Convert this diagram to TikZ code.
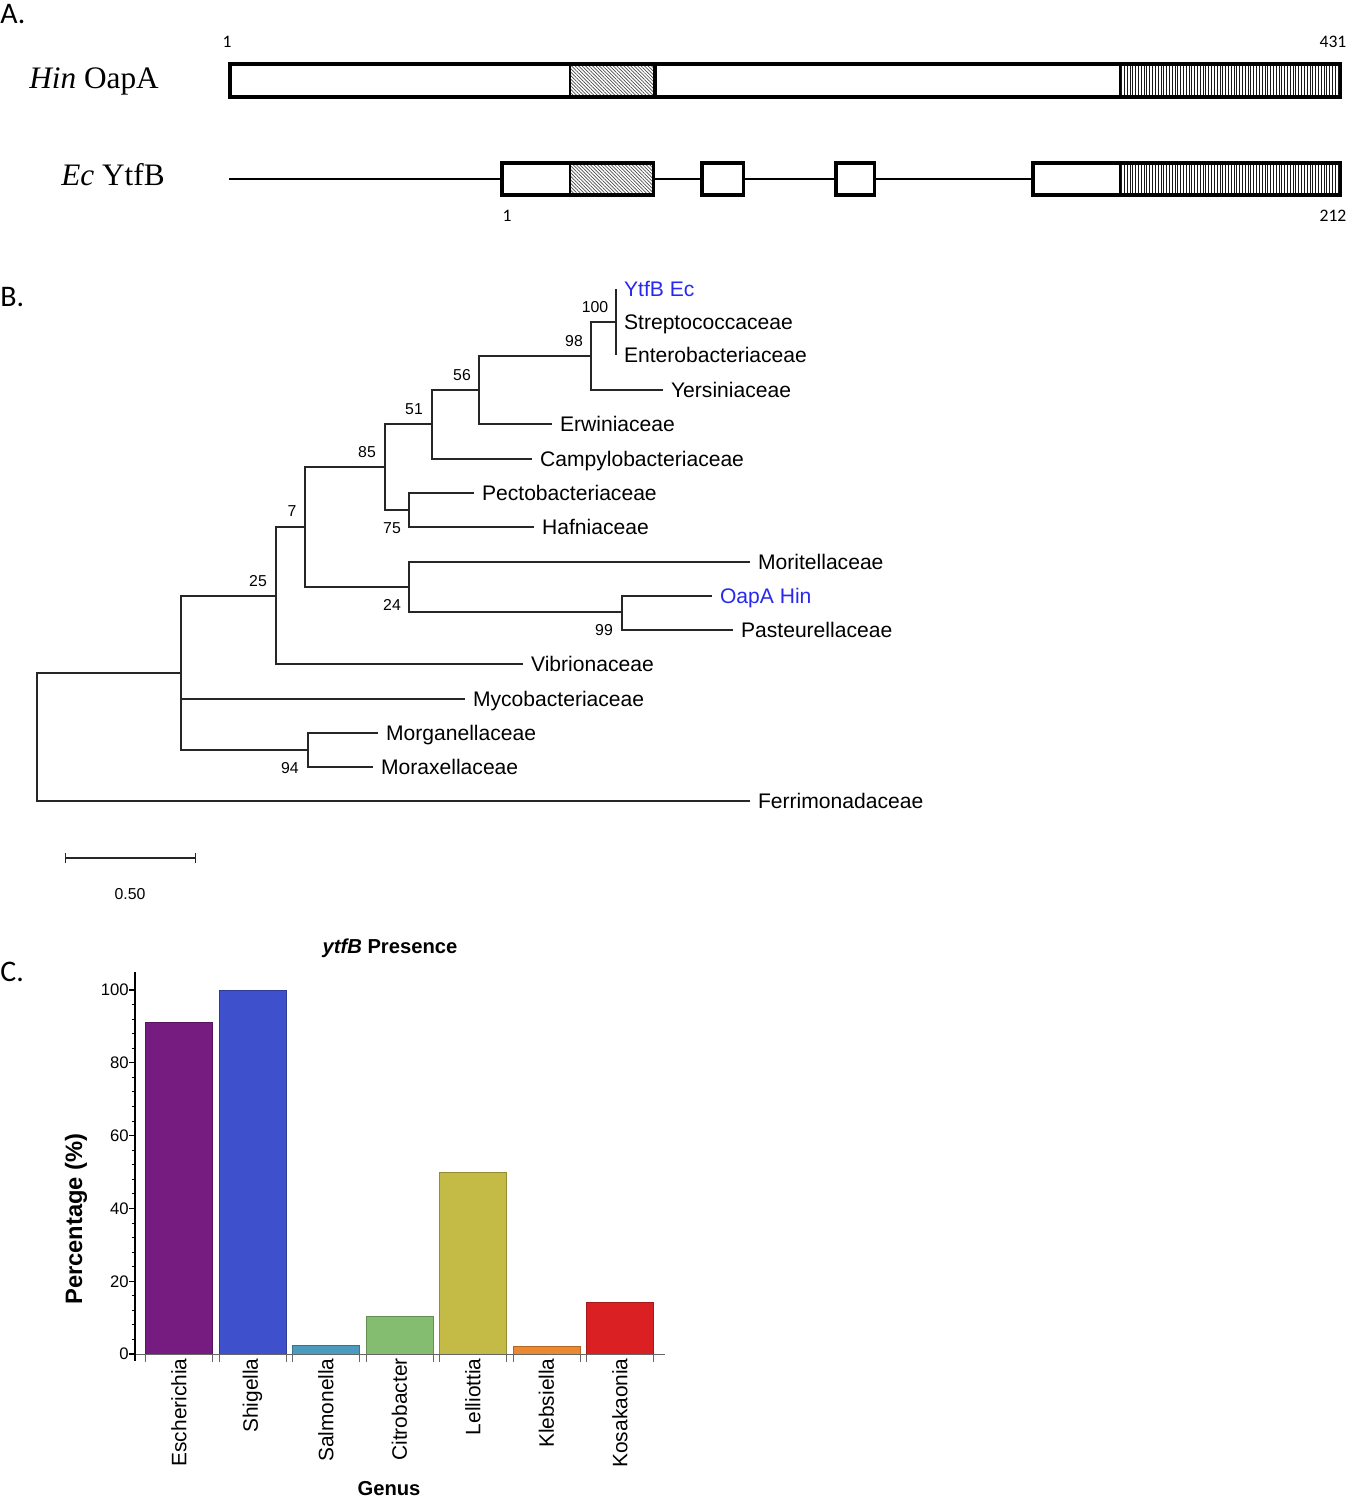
\documentclass[tikz,border=0pt]{standalone}
\usepackage{fontspec}
\setmainfont{Liberation Sans}
\newfontfamily\timesfont{Liberation Serif}
\newfontfamily\calfont{Carlito}
\usetikzlibrary{arrows.meta,fit,patterns.meta}

\definecolor{seqblue}{RGB}{40,40,240}
\definecolor{escol}{RGB}{118,27,128}
\definecolor{shcol}{RGB}{62,80,203}
\definecolor{sacol}{RGB}{74,155,190}
\definecolor{cicol}{RGB}{133,189,112}
\definecolor{lecol}{RGB}{196,187,70}
\definecolor{klcol}{RGB}{235,137,50}
\definecolor{kocol}{RGB}{219,32,36}

\begin{document}
\begin{tikzpicture}[
  x=0.02cm, y=-0.02cm,
  panellab/.style={anchor=west,inner sep=0pt,font=\calfont\fontsize{17}{20}\selectfont},
  resnum/.style={inner sep=0pt,font=\calfont\fontsize{10}{12}\selectfont},
  protname/.style={anchor=base west,inner sep=0pt,font=\timesfont\fontsize{17.8}{20}\selectfont},
  protbox/.style={draw,line width=2pt,inner sep=0pt,outer sep=0pt},
  backbone/.style={line width=1.4pt},
  divider/.style={line width=1pt},
  hatchA/.style={pattern={Lines[angle=-45,distance=1.4pt,line width=0.4pt]},pattern color=black!70},
  hatchB/.style={pattern={Lines[angle=90,distance=1.6pt,line width=0.55pt]},pattern color=black!90},
  branch/.style={line width=0.85pt,black!85},
  leaf/.style={anchor=west,inner xsep=4.6pt,inner ysep=0pt,outer sep=0pt,text height=8.6pt,text depth=0pt,font=\fontsize{12}{14}\selectfont},
  boot/.style={inner sep=0pt,text height=6.4pt,text depth=0pt,font=\fontsize{9}{11}\selectfont},
  gbar/.style={line width=0.5pt},
  axtick/.style={line width=0.5pt,black!60},
  ticklab/.style={anchor=east,inner sep=0pt,text height=6.8pt,text depth=0pt,font=\fontsize{9.5}{11}\selectfont},
  genus/.style={rotate=90,anchor=east,inner sep=0pt,font=\fontsize{11.9}{14}\selectfont},
  axtitle/.style={inner sep=0pt,font=\bfseries\fontsize{11.5}{14}\selectfont}
]
\useasboundingbox (0,0) rectangle (1347,1498);

\node[panellab] (pa) at (0,14) {A.};
\node[panellab] (pb) at (0,297) {B.};
\node[panellab] (pc) at (0,972) {C.};

% A
\fill[hatchA] (570,64) rectangle (655,97);
\fill[hatchB] (1121,64) rectangle (1340,97);
\fill[hatchA] (570,163) rectangle (653,195);
\fill[hatchB] (1121,163) rectangle (1340,195);
\node[protbox,fit={(229.75,64) (1340.25,97)}] (hin) {};
\draw[divider] (570,64) -- (570,97);
\draw[line width=2pt] (655,64) -- (655,97);
\draw[divider] (1120,64) -- (1120,97);

\coordinate (ecstart) at (229,179);
\node[protbox,fit={(501.75,163) (653.25,195)}] (ec1) {};
\node[protbox,fit={(701.75,163) (743.25,195)}] (ec2) {};
\node[protbox,fit={(835.75,163) (874.25,195)}] (ec3) {};
\node[protbox,fit={(1032.75,163) (1340.25,195)}] (ec4) {};
\draw[backbone] (ecstart) -- (ec1.west);
\draw[backbone] (ec1) -- (ec2);
\draw[backbone] (ec2) -- (ec3);
\draw[backbone] (ec3) -- (ec4);
\draw[divider] (570,163) -- (570,195);
\draw[divider] (1120,163) -- (1120,195);

\node[protname] (hinlab) at (29,88) {\textit{Hin} OapA};
\node[protname] (eclab) at (61,185) {\textit{Ec} YtfB};
\node[resnum] (hinfirst) at (227,42) {1};
\node[resnum] (hinlast) at (1333,42) {431};
\node[resnum] (ecfirst) at (507,216) {1};
\node[resnum] (eclast) at (1333,216) {212};

% B
\coordinate (n98) at (591,356);
\coordinate (n56) at (479,390);
\coordinate (n51) at (432,424);
\coordinate (n85) at (385,467);
\coordinate (n75) at (409,510);
\coordinate (n7) at (305,527);
\coordinate (n24) at (409,587);
\coordinate (n99) at (622,612);
\coordinate (n25) at (276,596);
\coordinate (n0) at (181,673);
\coordinate (n94) at (308,750);
\coordinate (nroot) at (37,737);

\node[leaf,text=seqblue] (ytfb) at (616,289) {YtfB Ec};
\node[leaf] (strep) at (616,322) {Streptococcaceae};
\node[leaf] (entero) at (616,355) {Enterobacteriaceae};
\node[leaf] (yers) at (663,390) {Yersiniaceae};
\node[leaf] (erw) at (552,424) {Erwiniaceae};
\node[leaf] (camp) at (532,459) {Campylobacteriaceae};
\node[leaf] (pect) at (474,493) {Pectobacteriaceae};
\node[leaf] (hafn) at (534,527) {Hafniaceae};
\node[leaf] (mori) at (750,562) {Moritellaceae};
\node[leaf,text=seqblue] (oapa) at (712,596) {OapA Hin};
\node[leaf] (past) at (733,630) {Pasteurellaceae};
\node[leaf] (vibr) at (523,664) {Vibrionaceae};
\node[leaf] (myco) at (465,699) {Mycobacteriaceae};
\node[leaf] (morg) at (378,733) {Morganellaceae};
\node[leaf] (morax) at (373,767) {Moraxellaceae};
\node[leaf] (ferr) at (750,801) {Ferrimonadaceae};

\draw[branch] (ytfb.west) -- (entero.west);
\draw[branch] (n98) |- (strep.west);
\draw[branch] (n98) |- (yers);
\draw[branch] (n56) |- (n98);
\draw[branch] (n56) |- (erw);
\draw[branch] (n51) |- (n56);
\draw[branch] (n51) |- (camp);
\draw[branch] (n85) |- (n51);
\draw[branch] (n85) |- (n75);
\draw[branch] (n75) |- (pect);
\draw[branch] (n75) |- (hafn);
\draw[branch] (n7) |- (n85);
\draw[branch] (n7) |- (n24);
\draw[branch] (n24) |- (mori);
\draw[branch] (n24) |- (n99);
\draw[branch] (n99) |- (oapa);
\draw[branch] (n99) |- (past);
\draw[branch] (n25) |- (n7);
\draw[branch] (n25) |- (vibr);
\draw[branch] (n0) |- (n25);
\draw[branch] (n0) |- (myco);
\draw[branch] (n0) |- (n94);
\draw[branch] (n94) |- (morg);
\draw[branch] (n94) |- (morax);
\draw[branch] (nroot) |- (n0);
\draw[branch] (nroot) |- (ferr);

\foreach \x/\y/\v in {595/307/100, 574/341/98, 462/375/56, 414/409/51, 367/452/85,
  392/528/75, 292/511/7, 258/581/25, 392/605/24, 604/630/99, 290/768/94}
  \node[boot] (bs\v) at (\x,\y) {\v};

\coordinate (sbl) at (65,858);
\coordinate (sbr) at (196,858);
\draw[branch,{Bar[width=0.2cm]}-{Bar[width=0.2cm]}] (sbl) -- (sbr);
\node[boot] (sblab) at (130,894) {0.50};

% C
\node[axtitle] (ctitle) at (390,948) {\textit{ytfB} Presence};
\foreach \i/\g/\val/\col in {0/Escherichia/91.2/escol, 1/Shigella/100/shcol, 2/Salmonella/2.4/sacol,
  3/Citrobacter/10.3/cicol, 4/Lelliottia/50/lecol, 5/Klebsiella/2/klcol, 6/Kosakaonia/14.2/kocol} {
  \path[gbar,fill=\col,draw=\col!75!black] ({145.5+73.5*\i},1354) rectangle ++(67,{-3.64*\val});
  \draw[axtick] ({145.5+73.5*\i},1354) -- ++(0,8);
  \draw[axtick] ({212.5+73.5*\i},1354) -- ++(0,8);
  \node[genus] (g\i) at ({179+73.5*\i},1358) {\g};
}
\draw[axtick] (135,1354) -- (665,1354);
\draw[line width=1pt] (135,972) -- (135,1361);
\foreach \v in {4,8,...,100}
  \draw[line width=0.5pt] (135,{1354-3.64*\v}) -- ++(-3,0);
\foreach \v in {0,20,...,100} {
  \draw[line width=0.7pt] (135,{1354-3.64*\v}) -- ++(-6,0);
  \node[ticklab] (yt\v) at (129,{1354-3.64*\v}) {\v};
}
\node[axtitle,rotate=90,font=\bfseries\fontsize{13.5}{16}\selectfont] (ylab) at (76,1219) {Percentage (\%)};
\node[axtitle] (xlab) at (389,1489) {Genus};
\end{tikzpicture}
\end{document}
